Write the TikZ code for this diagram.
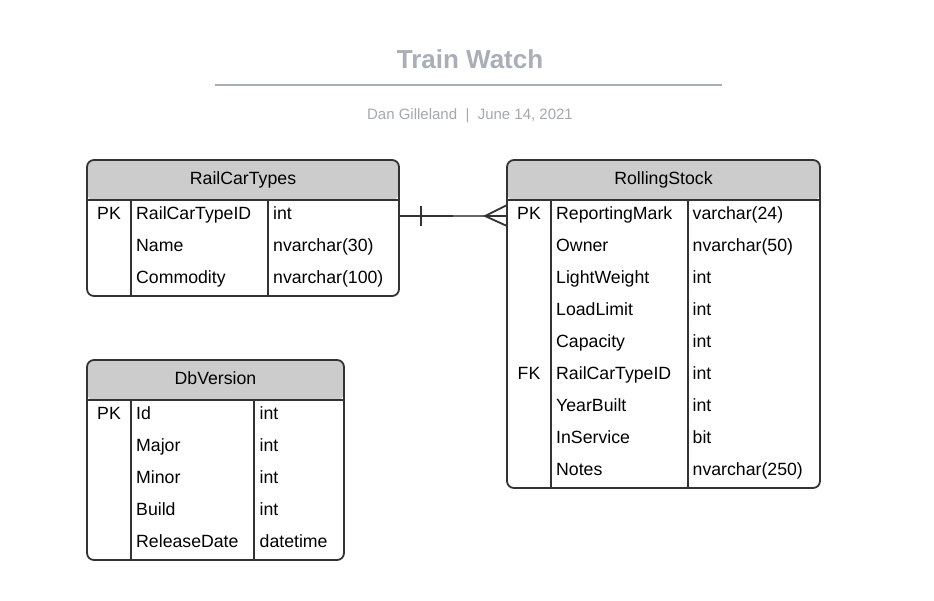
\documentclass[tikz,border=0pt]{standalone}
\usepackage{fontspec}
\setmainfont{Liberation Sans}
\definecolor{bordc}{HTML}{333333}
\definecolor{hdrc}{HTML}{CCCCCC}
\definecolor{titlec}{HTML}{A9AEB8}
\definecolor{subc}{HTML}{A3A8B2}
\definecolor{linkc}{HTML}{333333}
\definecolor{linkc2}{HTML}{666666}
\tikzset{
  tablebox/.style={fill=white, rounded corners=7pt, inner sep=0pt, outer sep=0pt, anchor=north west,
    path picture={\fill[hdrc] (path picture bounding box.north west) rectangle ([yshift=-40pt]path picture bounding box.north east);}},
  tableborder/.style={draw=bordc, line width=1.8pt, rounded corners=7pt},
  tableline/.style={draw=bordc, line width=1.8pt},
  hdrtxt/.style={inner sep=0pt, anchor=base, font=\fontsize{17.7}{20}\selectfont},
  keytxt/.style={inner sep=0pt, anchor=base, font=\fontsize{17.7}{20}\selectfont},
  celltxt/.style={inner sep=0pt, anchor=base west, font=\fontsize{17.7}{20}\selectfont},
  link/.style={draw=linkc, line width=1.8pt},
}
% #1 id, #2 x key centre, #3 x name, #4 x type, #5 baseline y, #6 key, #7 name, #8 type
\newcommand\erow[8]{%
  \node[keytxt] (#1k) at (#2,#5) {#6};
  \node[celltxt] (#1n) at (#3,#5) {#7};
  \node[celltxt] (#1t) at (#4,#5) {#8};
}
\begin{document}
\begin{tikzpicture}[x=1pt,y=-1pt]
\useasboundingbox[fill=white] (0,0) rectangle (934,600);

% title
\node[inner sep=0pt, anchor=base, text=titlec, font=\fontsize{26}{30}\selectfont\bfseries] (title) at (470,68) {Train Watch};
\coordinate (tl) at (215,85);
\coordinate (tr) at (722,85);
\draw[draw=titlec, line width=1.5pt] (tl) -- (tr);
\node[inner sep=0pt, anchor=base, text=subc, font=\fontsize{15}{18}\selectfont] (sub) at (470,119) {Dan Gilleland\ \ |\ \ June 14, 2021};

% RailCarTypes
\node[tablebox, minimum width=312pt, minimum height=136pt] (rct) at (87,160) {};
\draw[tableline] (87,200) -- (399,200);
\draw[tableline] (131,200) -- (131,296);
\draw[tableline] (268,200) -- (268,296);
\draw[tableborder] (rct.north west) rectangle (rct.south east);
\node[hdrtxt] (rcth) at (243,184.5) {RailCarTypes};
\erow{rcta}{109}{136}{273}{219.5}{PK}{RailCarTypeID}{int}
\erow{rctb}{109}{136}{273}{251.5}{}{Name}{nvarchar(30)}
\erow{rctc}{109}{136}{273}{283.5}{}{Commodity}{nvarchar(100)}

% DbVersion
\node[tablebox, minimum width=257pt, minimum height=200pt] (dbv) at (87,360) {};
\draw[tableline] (87,400) -- (344,400);
\draw[tableline] (131,400) -- (131,560);
\draw[tableline] (254,400) -- (254,560);
\draw[tableborder] (dbv.north west) rectangle (dbv.south east);
\node[hdrtxt] (dbvh) at (215.5,384.5) {DbVersion};
\erow{dbva}{109}{136}{259.5}{419.5}{PK}{Id}{int}
\erow{dbvb}{109}{136}{259.5}{451.5}{}{Major}{int}
\erow{dbvc}{109}{136}{259.5}{483.5}{}{Minor}{int}
\erow{dbvd}{109}{136}{259.5}{515.5}{}{Build}{int}
\erow{dbve}{109}{136}{259.5}{547.5}{}{ReleaseDate}{datetime}

% RollingStock
\node[tablebox, minimum width=313pt, minimum height=328pt] (rs) at (507,160) {};
\draw[tableline] (507,200) -- (820,200);
\draw[tableline] (551,200) -- (551,488);
\draw[tableline] (688,200) -- (688,488);
\draw[tableborder] (rs.north west) rectangle (rs.south east);
\node[hdrtxt] (rsh) at (663.5,184.5) {RollingStock};
\erow{rsa}{529}{556}{692.5}{219.5}{PK}{ReportingMark}{varchar(24)}
\erow{rsb}{529}{556}{692.5}{251.5}{}{Owner}{nvarchar(50)}
\erow{rsc}{529}{556}{692.5}{283.5}{}{LightWeight}{int}
\erow{rsd}{529}{556}{692.5}{315.5}{}{LoadLimit}{int}
\erow{rse}{529}{556}{692.5}{347.5}{}{Capacity}{int}
\erow{rsf}{529}{556}{692.5}{379.5}{FK}{RailCarTypeID}{int}
\erow{rsg}{529}{556}{692.5}{411.5}{}{YearBuilt}{int}
\erow{rsh2}{529}{556}{692.5}{443.5}{}{InService}{bit}
\erow{rsi}{529}{556}{692.5}{475.5}{}{Notes}{nvarchar(250)}

% relationship: one (RailCarTypes) to many (RollingStock)
\coordinate (ls) at (rct.east |- 0,216);
\coordinate (le) at (rs.west |- 0,216);
\coordinate (lmid) at (453,216);
\coordinate (apex) at (485,216);
\coordinate (bart) at (421,206);
\coordinate (barb) at (421,226);
\coordinate (ftop) at (rs.west |- 0,205);
\coordinate (fbot) at (rs.west |- 0,226);
\draw[link] (ls) -- (lmid);
\draw[link, draw=linkc2] (lmid) -- (apex);
\draw[link] (apex) -- (le);
\draw[link] (bart) -- (barb);
\draw[link] (ftop) -- (apex) -- (fbot);
\end{tikzpicture}
\end{document}
